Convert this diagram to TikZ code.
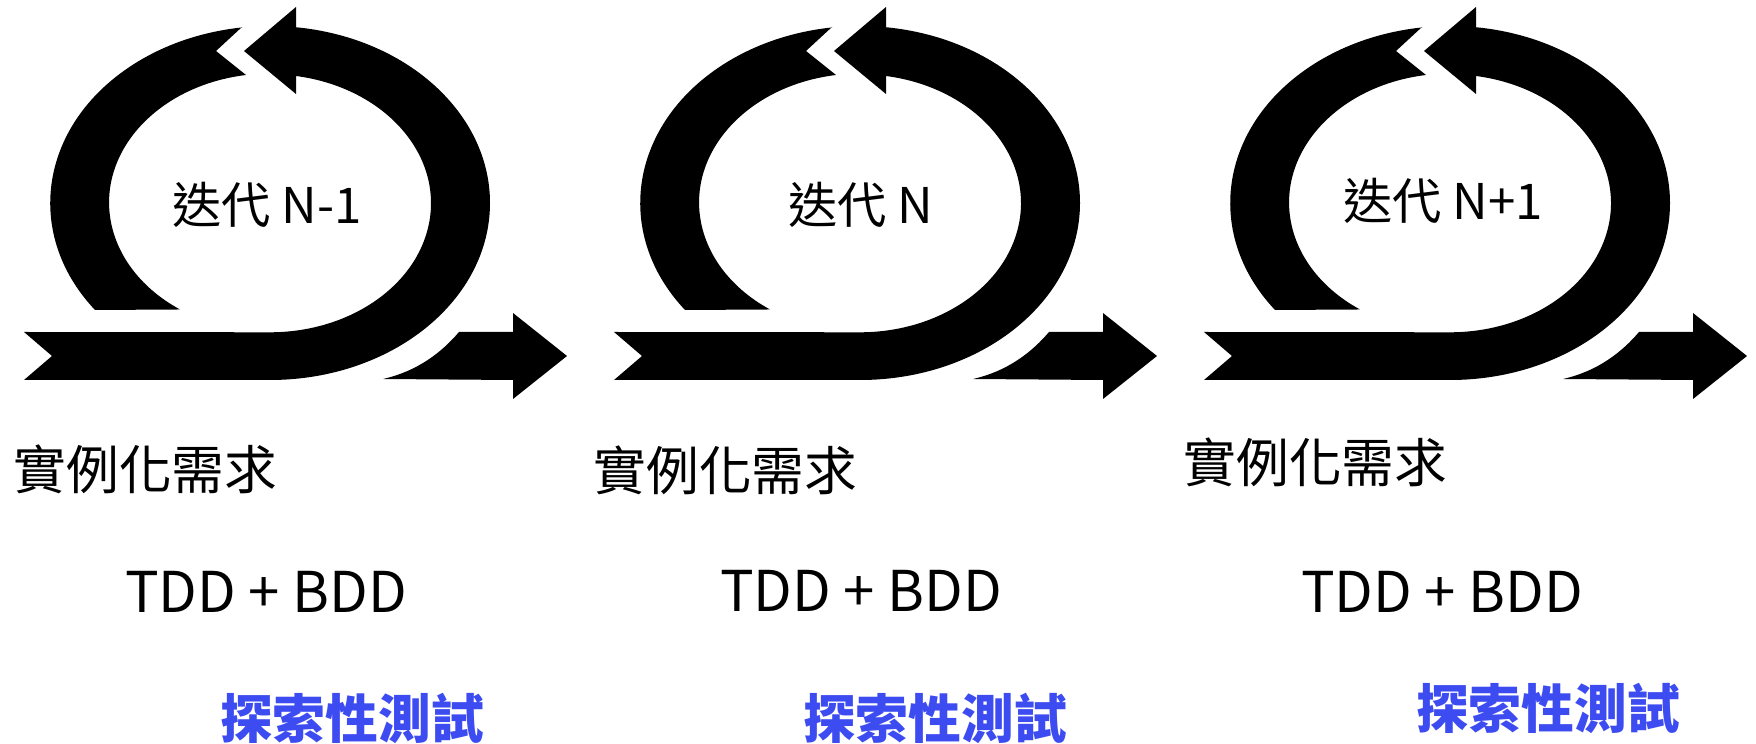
\documentclass[tikz,border=0pt]{standalone}
\usepackage{fontspec}
\setmainfont{Noto Sans CJK TC}
\usepackage{xcolor}
\definecolor{explore}{RGB}{61,76,240}

\tikzset{
  iterlabel/.style={font=\fontsize{14pt}{17pt}\selectfont},
  reqlabel/.style={anchor=west,font=\fontsize{15pt}{18pt}\selectfont},
  devlabel/.style={font=\fontsize{16pt}{19pt}\selectfont},
  testlabel/.style={text=explore,font=\fontsize{15pt}{18pt}\selectfont\bfseries}
}

\begin{document}
\begin{tikzpicture}
  [x=0.1mm,y=0.1mm,every node/.style={inner sep=0pt}]
  \useasboundingbox (0,0) rectangle (1756,744);

  % one loop per iteration
  \foreach \off in {0,590,1180}
  {
    \begin{scope}[shift={(\off,0)}]
      \fill (24,412) -- (52,388) -- (24,364) -- (270,364)
        arc[start angle=-90,end angle=83.2,x radius=220,y radius=177]
        -- (296,737) -- (244,693) -- (296,650) -- (296,668)
        arc[start angle=80.7,end angle=-90,x radius=161,y radius=129]
        -- cycle;
      \fill (242,717) -- (216,693) -- (246,669)
        arc[start angle=98.6,end angle=236,x radius=161,y radius=129]
        -- (95,434)
        arc[start angle=217.2,end angle=97.3,x radius=220,y radius=177]
        -- cycle;
      \fill (383,365) .. controls (418,373) and (442,392) .. (459,412)
        -- (513,412) -- (513,431) -- (567,388) -- (513,345) -- (513,364)
        -- cycle;
    \end{scope}
  }

  \node[iterlabel] (iter1) at (267,539) {迭代 N-1};
  \node[iterlabel] (iter2) at (861,539) {迭代 N};
  \node[iterlabel] (iter3) at (1443,543) {迭代 N+1};

  \node[reqlabel] (req1) at (13,275) {實例化需求};
  \node[reqlabel] (req2) at (593,274) {實例化需求};
  \node[reqlabel] (req3) at (1183,282) {實例化需求};

  \node[devlabel] (dev1) at (266,152) {TDD + BDD};
  \node[devlabel] (dev2) at (861,153) {TDD + BDD};
  \node[devlabel] (dev3) at (1442,152) {TDD + BDD};

  \node[testlabel] (test1) at (352,26) {探索性測試};
  \node[testlabel] (test2) at (935,26) {探索性測試};
  \node[testlabel] (test3) at (1548,36) {探索性測試};

\end{tikzpicture}
\end{document}
